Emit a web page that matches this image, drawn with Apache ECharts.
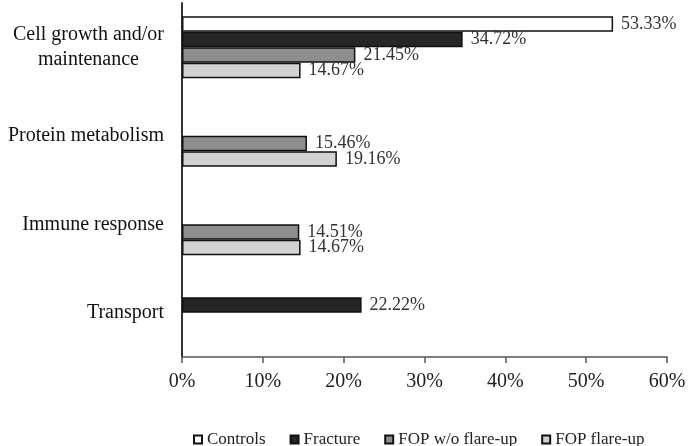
<!DOCTYPE html>
<html>
<head>
<meta charset="utf-8">
<script src="https://cdn.jsdelivr.net/npm/echarts@6/dist/echarts.min.js"></script>
<style>html,body{margin:0;padding:0;background:#fff}#c{width:689px;height:446px}</style>
</head>
<body>
<div id="c"></div>
<script>
const categories = ['Cell growth and/or\nmaintenance', 'Protein metabolism', 'Immune response', 'Transport'];
const seriesNames = ['Controls', 'Fracture', 'FOP w/o flare-up', 'FOP flare-up'];
const controls = [53.33, null, null, null];
const fracture = [34.72, null, null, 22.22];
const fopWithout = [21.45, 15.46, 14.51, null];
const fopFlare = [14.67, 19.16, 14.67, null];
const xTicks = [0, 10, 20, 30, 40, 50, 60];

const colors = ['#ffffff', '#262626', '#8e8e8e', '#d2d2d2'];
const values = [controls, fracture, fopWithout, fopFlare];
const serif = '"Liberation Serif", "DejaVu Serif", serif';

const chart = echarts.init(document.getElementById('c'), null, {renderer: 'canvas'});
chart.setOption({
  animation: false,
  backgroundColor: '#fff',
  grid: {left: 182, right: 22, top: 3, bottom: 89, containLabel: false},
  legend: {
    data: seriesNames,
    left: 188, top: 426,
    itemWidth: 8, itemHeight: 8, itemGap: 24,
    icon: 'rect',
    textStyle: {fontFamily: serif, fontSize: 17, color: '#222'}
  },
  xAxis: {
    type: 'value',
    min: xTicks[0], max: xTicks[xTicks.length - 1], interval: 10,
    axisLine: {show: true, lineStyle: {color: '#555', width: 1.5}},
    axisTick: {show: true, length: 6, lineStyle: {color: '#555', width: 1.5}},
    splitLine: {show: false},
    axisLabel: {formatter: '{value}%', margin: 15, fontFamily: serif, fontSize: 20, color: '#222'}
  },
  yAxis: {
    type: 'category',
    data: categories,
    inverse: true,
    axisLine: {show: true, lineStyle: {color: '#333', width: 2}},
    axisTick: {show: false},
    axisLabel: {
      margin: 18,
      align: 'right',
      formatter: v => v.split('\n').map(s => '{a|' + s + '}').join('\n'),
      rich: {a: {fontFamily: serif, fontSize: 20, color: '#111', align: 'center', lineHeight: 25}}
    }
  },
  series: seriesNames.map((n, i) => ({
    name: n,
    type: 'bar',
    data: values[i],
    barGap: '0%',
    barCategoryGap: '30%',
    itemStyle: {color: colors[i], borderColor: '#111', borderWidth: 1.5},
    label: {
      show: true, position: 'right', distance: 8,
      formatter: p => (p.value == null ? '' : Number(p.value).toFixed(2) + '%'),
      fontFamily: serif, fontSize: 18, color: '#333'
    }
  }))
});
</script>
</body>
</html>
